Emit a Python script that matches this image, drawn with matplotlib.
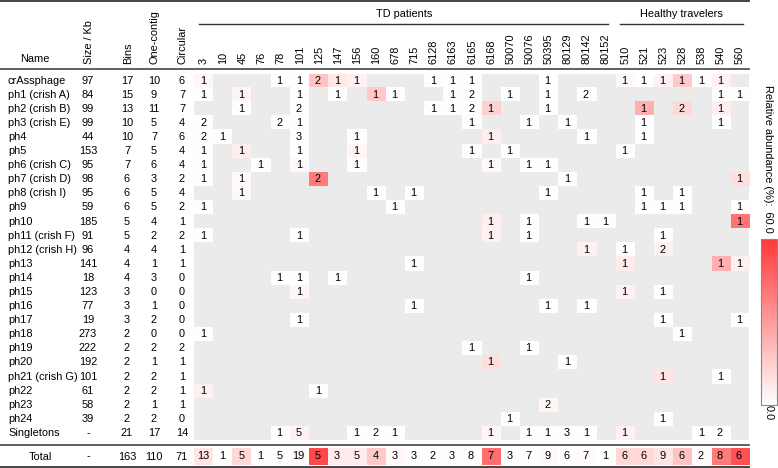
import matplotlib
matplotlib.use('Agg')
import matplotlib.pyplot as plt
import numpy as np
from matplotlib.colors import LinearSegmentedColormap, Normalize
from matplotlib.cm import ScalarMappable
from matplotlib.transforms import Affine2D, blended_transform_factory
from matplotlib.lines import Line2D

plt.rcParams['font.family'] = ['Liberation Sans', 'DejaVu Sans']
FS = 7.9
TC = '#000000'

# ---------------- data ----------------
names = ['crAssphage', 'ph1 (crish A)', 'ph2 (crish B)', 'ph3 (crish E)', 'ph4', 'ph5',
         'ph6 (crish C)', 'ph7 (crish D)', 'ph8 (crish I)', 'ph9', 'ph10', 'ph11 (crish F)',
         'ph12 (crish H)', 'ph13', 'ph14', 'ph15', 'ph16', 'ph17', 'ph18', 'ph19', 'ph20',
         'ph21 (crish G)', 'ph22', 'ph23', 'ph24', 'Singletons']
size_kb = ['97', '84', '99', '99', '44', '153', '95', '98', '95', '59', '185', '91', '96',
           '141', '18', '123', '77', '19', '273', '222', '192', '101', '61', '58', '39', '-']
bins = [17, 15, 13, 10, 10, 7, 7, 6, 6, 6, 5, 5, 4, 4, 4, 3, 3, 3, 2, 2, 2, 2, 2, 2, 2, 21]
one_contig = [10, 9, 11, 5, 7, 5, 6, 3, 5, 5, 4, 2, 4, 1, 3, 0, 1, 2, 0, 2, 1, 2, 2, 1, 2, 17]
circular = [6, 7, 7, 4, 6, 4, 4, 2, 4, 2, 1, 2, 1, 1, 0, 0, 0, 0, 0, 2, 1, 1, 1, 1, 0, 14]
total_left = ['-', '163', '110', '71']

td_patients = ['3', '10', '45', '76', '78', '101', '125', '147', '156', '160', '678', '715',
               '6128', '6163', '6165', '6168', '50070', '50076', '50395', '80129', '80142', '80152']
healthy = ['510', '521', '523', '528', '538', '540', '560']
samples = td_patients + healthy

counts = [
    [1,0,0,0,1,1,2,1,1,0, 0,0,1,1,1,0,0,0,1,0, 0,0,1,1,1,1,1,1,0],
    [1,0,1,0,0,1,0,1,0,1, 1,0,0,1,2,0,1,0,1,0, 2,0,0,0,0,0,0,1,1],
    [0,0,1,0,0,2,0,0,0,0, 0,0,1,1,2,1,0,0,1,0, 0,0,0,1,0,2,0,1,0],
    [2,0,0,0,2,1,0,0,0,0, 0,0,0,0,1,0,0,1,0,1, 0,0,0,1,0,0,0,1,0],
    [2,1,0,0,0,3,0,0,1,0, 0,0,0,0,0,1,0,0,0,0, 1,0,0,1,0,0,0,0,0],
    [1,0,1,0,0,1,0,0,1,0, 0,0,0,0,1,0,1,0,0,0, 0,0,1,0,0,0,0,0,0],
    [1,0,0,1,0,1,0,0,1,0, 0,0,0,0,0,1,0,1,1,0, 0,0,0,0,0,0,0,0,0],
    [1,0,1,0,0,0,2,0,0,0, 0,0,0,0,0,0,0,0,0,1, 0,0,0,0,0,0,0,0,1],
    [0,0,1,0,0,0,0,0,0,1, 0,1,0,0,0,0,0,0,1,0, 0,0,0,1,0,1,0,0,0],
    [1,0,0,0,0,0,0,0,0,0, 1,0,0,0,0,0,0,0,0,0, 0,0,0,1,1,1,0,0,1],
    [0,0,0,0,0,0,0,0,0,0, 0,0,0,0,0,1,0,1,0,0, 1,1,0,0,0,0,0,0,1],
    [1,0,0,0,0,1,0,0,0,0, 0,0,0,0,0,1,0,1,0,0, 0,0,0,0,1,0,0,0,0],
    [0,0,0,0,0,0,0,0,0,0, 0,0,0,0,0,0,0,0,0,0, 1,0,1,0,2,0,0,0,0],
    [0,0,0,0,0,0,0,0,0,0, 0,1,0,0,0,0,0,0,0,0, 0,0,1,0,0,0,0,1,1],
    [0,0,0,0,1,1,0,1,0,0, 0,0,0,0,0,0,0,1,0,0, 0,0,0,0,0,0,0,0,0],
    [0,0,0,0,0,1,0,0,0,0, 0,0,0,0,0,0,0,0,0,0, 0,0,1,0,1,0,0,0,0],
    [0,0,0,0,0,0,0,0,0,0, 0,1,0,0,0,0,0,0,1,0, 1,0,0,0,0,0,0,0,0],
    [0,0,0,0,0,1,0,0,0,0, 0,0,0,0,0,0,0,0,0,0, 0,0,0,0,1,0,0,0,1],
    [1,0,0,0,0,0,0,0,0,0, 0,0,0,0,0,0,0,0,0,0, 0,0,0,0,0,1,0,0,0],
    [0,0,0,0,0,0,0,0,0,0, 0,0,0,0,1,0,0,1,0,0, 0,0,0,0,0,0,0,0,0],
    [0,0,0,0,0,0,0,0,0,0, 0,0,0,0,0,1,0,0,0,1, 0,0,0,0,0,0,0,0,0],
    [0,0,0,0,0,0,0,0,0,0, 0,0,0,0,0,0,0,0,0,0, 0,0,0,0,1,0,0,1,0],
    [1,0,0,0,0,0,1,0,0,0, 0,0,0,0,0,0,0,0,0,0, 0,0,0,0,0,0,0,0,0],
    [0,0,0,0,0,0,0,0,0,0, 0,0,0,0,0,0,0,0,2,0, 0,0,0,0,0,0,0,0,0],
    [0,0,0,0,0,0,0,0,0,0, 0,0,0,0,0,0,1,0,0,0, 0,0,0,0,1,0,0,0,0],
    [0,0,0,0,1,5,0,0,1,2, 1,0,0,0,0,1,0,1,1,3, 1,0,1,0,0,0,1,2,0],
]

abundance = [
    [3,0,0,0,.3,.3,18,7,4,0, 0,0,.3,.3,.3,0,0,0,.3,0, 0,0,2,.3,4,16,.3,4,0],
    [.3,0,3,0,0,.3,0,.3,0,16, .3,0,0,.3,.3,0,.3,0,.3,0, .3,0,0,0,0,0,0,.3,.3],
    [0,0,.3,0,0,.3,0,0,0,0, 0,0,.3,.3,.3,14,0,0,.3,0, 0,0,0,24,0,12,0,5,0],
    [.3,0,0,0,.3,.3,0,0,0,0, 0,0,0,0,.3,0,0,.3,0,.3, 0,0,0,.3,0,0,0,.3,0],
    [.3,.3,0,0,0,.3,0,0,.3,0, 0,0,0,0,0,5,0,0,0,0, .3,0,0,.3,0,0,0,0,0],
    [.3,0,5,0,0,.3,0,0,3,0, 0,0,0,0,.3,0,.3,0,0,0, 0,0,.3,0,0,0,0,0,0],
    [.3,0,0,.3,0,2,0,0,.3,0, 0,0,0,0,0,2,0,.3,.3,0, 0,0,0,0,0,0,0,0,0],
    [.3,0,1.5,0,0,0,40,0,0,0, 0,0,0,0,0,0,0,0,0,.3, 0,0,0,0,0,0,0,0,10],
    [0,0,2,0,0,0,0,0,0,.3, 0,.3,0,0,0,0,0,0,.3,0, 0,0,0,.3,0,.3,0,0,0],
    [.3,0,0,0,0,0,0,0,0,0, .3,0,0,0,0,0,0,0,0,0, 0,0,0,.3,.3,.3,0,0,.3],
    [0,0,0,0,0,0,0,0,0,0, 0,0,0,0,0,5,0,.3,0,0, .3,.3,0,0,0,0,0,0,42],
    [.3,0,0,0,0,.3,0,0,0,0, 0,0,0,0,0,4,0,.3,0,0, 0,0,0,0,.3,0,0,0,0],
    [0,0,0,0,0,0,0,0,0,0, 0,0,0,0,0,0,0,0,0,0, 4,0,.3,0,4,0,0,0,0],
    [0,0,0,0,0,0,0,0,0,0, 0,.3,0,0,0,0,0,0,0,0, 0,0,6,0,0,0,0,24,4],
    [0,0,0,0,.3,.3,0,.3,0,0, 0,0,0,0,0,0,0,.3,0,0, 0,0,0,0,0,0,0,0,0],
    [0,0,0,0,0,3,0,0,0,0, 0,0,0,0,0,0,0,0,0,0, 0,0,4,0,.3,0,0,0,0],
    [0,0,0,0,0,0,0,0,0,0, 0,.3,0,0,0,0,0,0,.3,0, .3,0,0,0,0,0,0,0,0],
    [0,0,0,0,0,.3,0,0,0,0, 0,0,0,0,0,0,0,0,0,0, 0,0,0,0,.3,0,0,0,.3],
    [.3,0,0,0,0,0,0,0,0,0, 0,0,0,0,0,0,0,0,0,0, 0,0,0,0,0,.3,0,0,0],
    [0,0,0,0,0,0,0,0,0,0, 0,0,0,0,.3,0,0,.3,0,0, 0,0,0,0,0,0,0,0,0],
    [0,0,0,0,0,0,0,0,0,0, 0,0,0,0,0,10,0,0,0,.3, 0,0,0,0,0,0,0,0,0],
    [0,0,0,0,0,0,0,0,0,0, 0,0,0,0,0,0,0,0,0,0, 0,0,0,0,8,0,0,.3,0],
    [4,0,0,0,0,0,.3,0,0,0, 0,0,0,0,0,0,0,0,0,0, 0,0,0,0,0,0,0,0,0],
    [0,0,0,0,0,0,0,0,0,0, 0,0,0,0,0,0,0,0,3,0, 0,0,0,0,0,0,0,0,0],
    [0,0,0,0,0,0,0,0,0,0, 0,0,0,0,0,0,.3,0,0,0, 0,0,0,0,.3,0,0,0,0],
    [0,0,0,0,.3,4,0,0,.3,.3, .3,0,0,0,0,3,0,.3,.3,.3, .3,0,4,0,0,0,.3,.3,0],
]

total_counts = [13, 1, 5, 1, 5, 19, 5, 3, 5, 4, 3, 3, 2, 3, 8, 7, 3, 7, 9, 6, 7, 1,
                6, 6, 9, 6, 2, 8, 6]
total_abundance = [8, .3, 12, .3, .5, 2, 55, 6, 6, 16, 2, .3, .3, .3, .3, 44, .3, .3, 2, .3,
                   1, .3, 12, 12, 8, 18, 1, 40, 52]

# ---------------- figure ----------------
W, H = 778, 468
fig = plt.figure(figsize=(W / 100, H / 100), dpi=100)
px = Affine2D().scale(1 / W, -1 / H).translate(0, 1) + fig.transFigure


def rect(x0, y0, x1, y1):
    return [x0 / W, 1 - y1 / H, (x1 - x0) / W, (y1 - y0) / H]


cmap = LinearSegmentedColormap.from_list('wr', ['#ffffff', '#ff3838'])
norm = Normalize(vmin=0, vmax=60)

C = np.array(counts)
A = np.array(abundance, dtype=float)
nrow, ncol = C.shape

X0, X1 = 193.5, 748.6
ax = fig.add_axes(rect(X0, 73.5, X1, 440))
ax.set_facecolor('#ebebeb')
ax.imshow(np.ma.masked_where(C == 0, A), cmap=cmap, norm=norm, aspect='auto',
          interpolation='nearest')
ax.set_xlim(-0.5, ncol - 0.5)
ax.set_ylim(nrow - 0.5, -0.5)
ax.set_xticks([]); ax.set_yticks([])
for s in ax.spines.values():
    s.set_visible(False)

for i in range(nrow):
    for j in range(ncol):
        if C[i, j] > 0:
            ax.text(j, i, str(C[i, j]), ha='center', va='center', fontsize=FS, color=TC)

# left table
tr_rows = blended_transform_factory(px, ax.transData)
col_x = {'size': 88, 'bins': 127, 'one': 154, 'circ': 182}
for i in range(nrow):
    ax.text(8, i, names[i], transform=tr_rows, ha='left', va='center', fontsize=FS, color=TC)
    ax.text(col_x['size'], i, size_kb[i], transform=tr_rows, ha='center', va='center', fontsize=FS, color=TC)
    ax.text(col_x['bins'], i, str(bins[i]), transform=tr_rows, ha='center', va='center', fontsize=FS, color=TC)
    ax.text(col_x['one'], i, str(one_contig[i]), transform=tr_rows, ha='center', va='center', fontsize=FS, color=TC)
    ax.text(col_x['circ'], i, str(circular[i]), transform=tr_rows, ha='center', va='center', fontsize=FS, color=TC)

# headers
fig.text(35, 62, 'Name', transform=px, ha='center', va='baseline', fontsize=FS, color=TC)
for key, lab in [('size', 'Size / Kb'), ('bins', 'Bins'), ('one', 'One-contig'), ('circ', 'Circular')]:
    fig.text(col_x[key] + 1, 64, lab, transform=px, rotation=90, ha='center', va='bottom',
             fontsize=FS, color=TC)
tr_cols = blended_transform_factory(ax.transData, px)
for j, lab in enumerate(samples):
    ax.text(j + 0.05, 64, lab, transform=tr_cols, rotation=90, ha='center', va='bottom',
            fontsize=FS, color=TC, clip_on=False)

ntd = len(td_patients)
ax.text((ntd - 1) / 2, 14, 'TD patients', transform=tr_cols, ha='center', va='center',
        fontsize=FS, color=TC, clip_on=False)
ax.text(ntd + (len(healthy) - 1) / 2, 14, 'Healthy travelers', transform=tr_cols,
        ha='center', va='center', fontsize=FS, color=TC, clip_on=False)

def hline(x0, x1, y, lw=1.2, color='#444'):
    fig.add_artist(Line2D([x0, x1], [y, y], transform=px, color=color, lw=lw))

hline(0, X1, 1.2, lw=1.4)
hline(0, X1, 69, lw=1.2)
hline(199, 608, 24, lw=1.0, color='#333')
hline(620, 743, 24, lw=1.0, color='#333')
hline(0, X1, 445, lw=1.2)
hline(0, X1, 467, lw=1.4)

# total row
axt = fig.add_axes(rect(X0, 448, X1, 464.5))
axt.set_facecolor('white')
axt.imshow(np.array([total_abundance], dtype=float), cmap=cmap, norm=norm, aspect='auto',
           interpolation='nearest')
axt.set_xlim(-0.5, ncol - 0.5)
axt.set_ylim(0.5, -0.5)
axt.set_xticks([]); axt.set_yticks([])
for s in axt.spines.values():
    s.set_visible(False)
for j, v in enumerate(total_counts):
    axt.text(j, 0, str(v), ha='center', va='center', fontsize=FS, color=TC)
fig.text(40, 456.5, 'Total', transform=px, ha='center', va='center', fontsize=FS, color=TC)
for key, v in zip(['size', 'bins', 'one', 'circ'], total_left):
    fig.text(col_x[key], 456.5, v, transform=px, ha='center', va='center', fontsize=FS, color=TC)

# colorbar
cax = fig.add_axes(rect(760.5, 238.5, 776.5, 405))
cb = fig.colorbar(ScalarMappable(norm=norm, cmap=cmap), cax=cax)
cb.set_ticks([])
cb.outline.set_edgecolor('#888')
cb.outline.set_linewidth(0.8)
fig.text(768.5, 85, 'Relative abundance (%):  60.0', transform=px, rotation=270,
         ha='center', va='top', fontsize=FS, color=TC)
fig.text(768.5, 412.5, '0.0', transform=px, rotation=270, ha='center', va='center',
         fontsize=FS, color=TC)

fig.savefig('out.png', dpi=100)
